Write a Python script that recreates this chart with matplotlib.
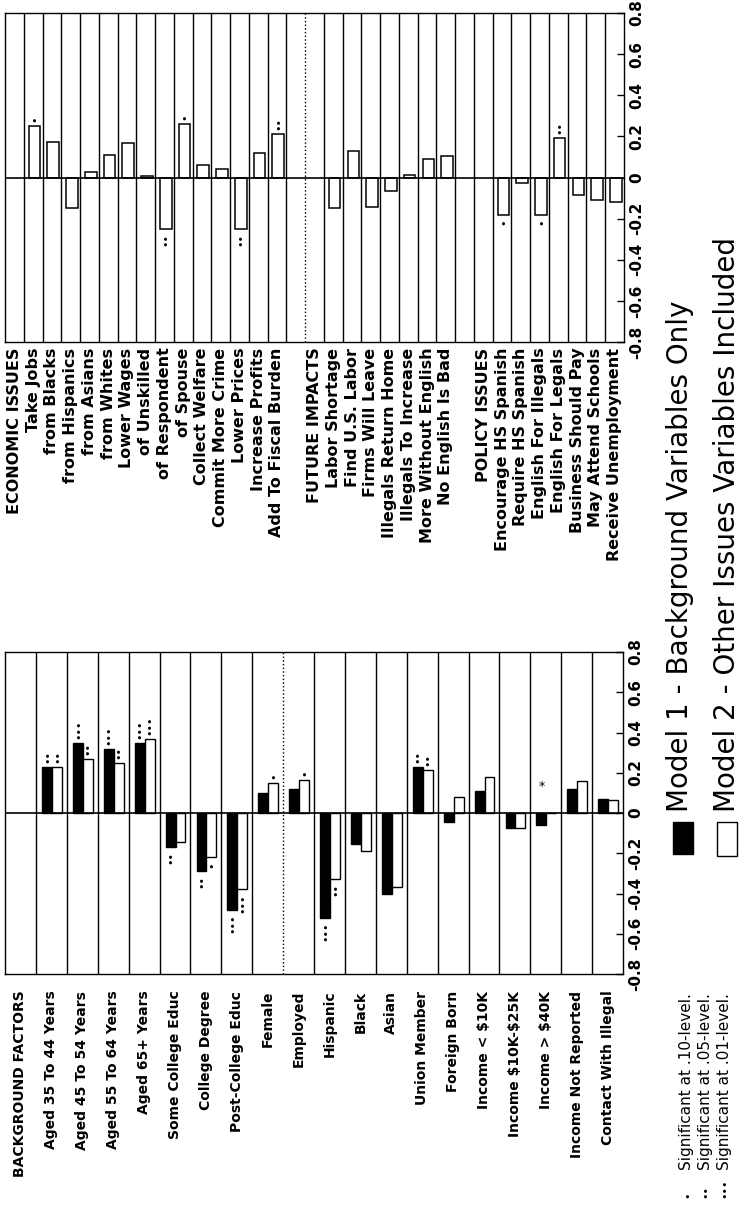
import numpy as np
import matplotlib
matplotlib.use("Agg")
import matplotlib.pyplot as plt
from matplotlib.patches import Rectangle

# --- Background factors panel (both models) ---
bg_labels = ["BACKGROUND FACTORS", "Aged 35 To 44 Years", "Aged 45 To 54 Years",
             "Aged 55 To 64 Years", "Aged 65+ Years", "Some College Educ",
             "College Degree", "Post-College Educ", "Female", "Employed",
             "Hispanic", "Black", "Asian", "Union Member", "Foreign Born",
             "Income < $10K", "Income $10K-$25K", "Income > $40K",
             "Income Not Reported", "Contact With Illegal"]
bg_model1 = [np.nan, 0.23, 0.35, 0.32, 0.35, -0.17, -0.29, -0.48, 0.10, 0.12,
             -0.52, -0.155, -0.40, 0.23, -0.045, 0.11, -0.075, -0.06, 0.12, 0.07]
bg_model2 = [np.nan, 0.23, 0.27, 0.25, 0.37, -0.145, -0.22, -0.38, 0.15, 0.165,
             -0.33, -0.19, -0.37, 0.215, 0.08, 0.18, -0.075, 0.0, 0.16, 0.065]
bg_sig1 = [0, 2, 3, 3, 3, 2, 2, 3, 0, 0, 3, 0, 0, 2, 0, 0, 0, 0, 0, 0]
bg_sig2 = [0, 2, 2, 2, 3, 0, 1, 3, 1, 1, 2, 0, 0, 2, 0, 0, 0, 0, 0, 0]
# stray asterisk printed in the Income > $40K row
bg_stray = ("Income > $40K", 0.13)

# --- Issue panel (model 2 only) ---
issue_labels = ["ECONOMIC ISSUES", "Take Jobs", "from Blacks", "from Hispanics",
                "from Asians", "from Whites", "Lower Wages", "of Unskilled",
                "of Respondent", "of Spouse", "Collect Welfare", "Commit More Crime",
                "Lower Prices", "Increase Profits", "Add To Fiscal Burden", "",
                "FUTURE IMPACTS", "Labor Shortage", "Find U.S. Labor",
                "Firms Will Leave", "Illegals Return Home", "Illegals To Increase",
                "More Without English", "No English Is Bad", "",
                "POLICY ISSUES", "Encourage HS Spanish", "Require HS Spanish",
                "English For Illegals", "English For Legals", "Business Should Pay",
                "May Attend Schools", "Receive Unemployment"]
issue_model2 = [np.nan, 0.25, 0.175, -0.15, 0.025, 0.11, 0.17, 0.008, -0.25, 0.26,
                0.06, 0.04, -0.25, 0.12, 0.21, np.nan,
                np.nan, -0.15, 0.13, -0.145, -0.065, 0.013, 0.09, 0.105, np.nan,
                np.nan, -0.18, -0.027, -0.18, 0.19, -0.085, -0.11, -0.12]
issue_sig = [0, 1, 0, 0, 0, 0, 0, 0, 2, 1, 0, 0, 2, 0, 2, 0,
             0, 0, 0, 0, 0, 0, 0, 0, 0,
             0, 1, 0, 1, 2, 0, 0, 0]

value_ticks = [-0.8, -0.6, -0.4, -0.2, 0, 0.2, 0.4, 0.6, 0.8]

legend_labels = ["Model 1 - Background Variables Only",
                 "Model 2 - Other Issues Variables Included"]
footnotes = [(1, "Significant at .10-level."),
             (2, "Significant at .05-level."),
             (3, "Significant at .01-level.")]

W, H = 745, 1205


def px_axes(fig, x0, y0, x1, y1):
    """Add axes from pixel box (top-left origin)."""
    return fig.add_axes([x0 / W, 1 - y1 / H, (x1 - x0) / W, (y1 - y0) / H])


def add_sig(ax, x, v, n):
    if n == 0 or np.isnan(v):
        return
    if v >= 0:
        ax.text(x, v + 0.02, "\u2022" * n, rotation=90, ha="center", va="bottom",
                fontsize=8)
    else:
        ax.text(x, v - 0.02, "\u2022" * n, rotation=90, ha="center", va="top",
                fontsize=8)


def setup_panel(ax, labels, label_size, label_pad, dotted=()):
    n = len(labels)
    ax.set_xlim(-0.5, n - 0.5)
    ax.set_ylim(-0.8, 0.8)
    ax.set_xticks(range(n))
    ax.set_xticklabels(labels, rotation=90, fontsize=label_size, fontweight="bold")
    ax.tick_params(axis="x", length=0, pad=label_pad)
    ax.yaxis.tick_right()
    ax.set_yticks(value_ticks)
    ax.set_yticklabels([f"{t:g}" for t in value_ticks], rotation=90, va="center",
                       fontsize=11, fontweight="bold")
    ax.tick_params(axis="y", direction="in", length=5, width=1, pad=4)
    # row separators
    for k in range(n - 1):
        ls = ":" if k in dotted else "-"
        ax.axvline(k + 0.5, color="black", lw=1, ls=ls, zorder=1)
    ax.axhline(0, color="black", lw=1.2, zorder=3)
    for sp in ax.spines.values():
        sp.set_linewidth(1)


def main():
    plt.rcParams["font.family"] = ["DejaVu Sans"]
    plt.rcParams["text.parse_math"] = False
    fig = plt.figure(figsize=(W / 100, H / 100), dpi=100)

    # top panel: issue variables
    ax_top = px_axes(fig, 5, 13, 624, 342)
    setup_panel(ax_top, issue_labels, 11.5, 4, dotted=(15,))
    x = np.arange(len(issue_labels)) + 0.07
    vals = np.array(issue_model2, dtype=float)
    ok = ~np.isnan(vals)
    ax_top.bar(x[ok], vals[ok], width=0.62, color="white", edgecolor="black",
               linewidth=1.1, zorder=2)
    for xi, v, s in zip(x, vals, issue_sig):
        add_sig(ax_top, xi, v, s)

    # bottom panel: background factors
    ax_bot = px_axes(fig, 5, 652, 623, 974)
    setup_panel(ax_bot, bg_labels, 10, 12, dotted=(8,))
    idx = np.arange(len(bg_labels))
    x1 = idx - 0.14
    x2 = idx + 0.18
    v1 = np.array(bg_model1, dtype=float)
    v2 = np.array(bg_model2, dtype=float)
    ok1 = ~np.isnan(v1)
    ok2 = ~np.isnan(v2)
    ax_bot.bar(x1[ok1], v1[ok1], width=0.32, color="black", edgecolor="black",
               linewidth=1, zorder=2)
    ax_bot.bar(x2[ok2], v2[ok2], width=0.32, color="white", edgecolor="black",
               linewidth=1, zorder=2)
    for xi, v, s in zip(x1, v1, bg_sig1):
        add_sig(ax_bot, xi, v, s)
    for xi, v, s in zip(x2, v2, bg_sig2):
        add_sig(ax_bot, xi, v, s)
    stray_i = bg_labels.index(bg_stray[0])
    ax_bot.text(x1[stray_i], bg_stray[1], "*", ha="center", va="center", fontsize=9)

    # legend, drawn by hand in the rotated layout
    fig.patches.append(Rectangle((673 / W, 1 - 854 / H), 20 / W, 32 / H,
                                 transform=fig.transFigure, facecolor="black",
                                 edgecolor="black", lw=1))
    fig.patches.append(Rectangle((717 / W, 1 - 856 / H), 20 / W, 34 / H,
                                 transform=fig.transFigure, facecolor="white",
                                 edgecolor="black", lw=1))
    fig.text(680 / W, 1 - 812 / H, legend_labels[0], rotation=90, ha="center",
             va="bottom", fontsize=20)
    fig.text(727 / W, 1 - 812 / H, legend_labels[1], rotation=90, ha="center",
             va="bottom", fontsize=20)

    # significance footnotes
    for k, (n, txt) in enumerate(footnotes):
        xc = (687 + 18.5 * k) / W
        fig.text(xc, 1 - 1198 / H, "\u2022" * n, rotation=90, ha="center",
                 va="bottom", fontsize=8)
        fig.text(xc, 1 - 1170 / H, txt, rotation=90, ha="center", va="bottom",
                 fontsize=11)

    fig.savefig("out.png", dpi=100)


if __name__ == "__main__":
    main()
